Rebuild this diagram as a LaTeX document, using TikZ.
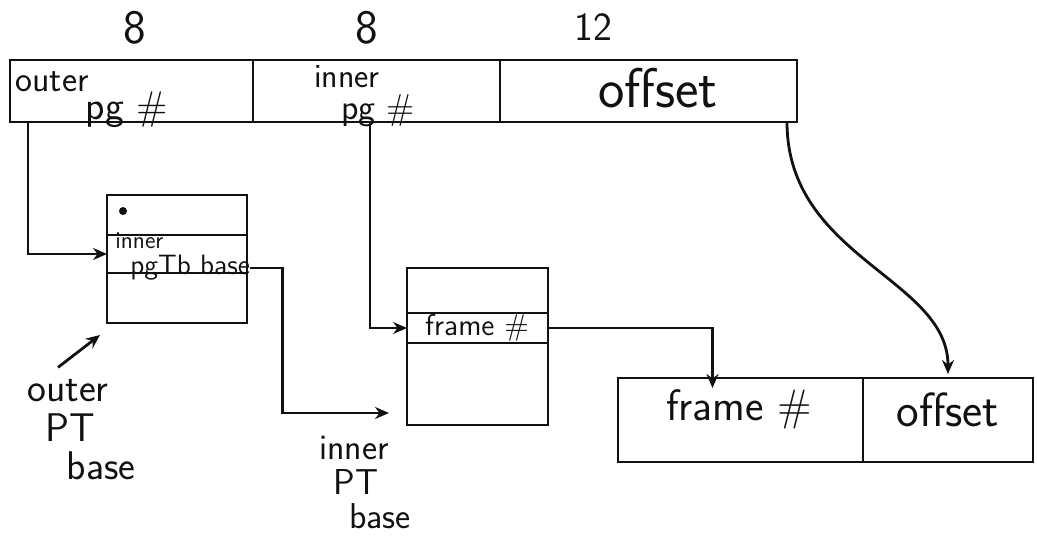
\documentclass[tikz,border=0pt]{standalone}
\usepackage{tikz}
\usetikzlibrary{arrows.meta,positioning,calc}
\definecolor{ink}{HTML}{111111}

\begin{document}
\begin{tikzpicture}[x=0.5pt,y=-0.5pt,
  inkline/.style={draw=ink,line width=1.4pt},
  cell/.style={inkline,rectangle,inner sep=0pt,outer sep=0pt,minimum height=31pt},
  slot/.style={inkline,rectangle,inner sep=0pt,outer sep=0pt,minimum width=70pt},
  pcell/.style={inkline,rectangle,inner sep=0pt,outer sep=0pt,minimum height=42pt},
  hand/.style={font=\sffamily\fontsize{#1}{#1}\selectfont,text=ink,inner sep=0pt},
  arr/.style={draw=ink,line width=1.4pt,-{Stealth[length=7pt,width=6pt]}}]
  \useasboundingbox (0,0) rectangle (1037,540);
  % virtual address: 8 | 8 | 12
  \node[cell,minimum width=121.5pt,anchor=north west] (outerpg) at (10,60) {};
  \node[cell,minimum width=123.5pt,right=0pt of outerpg] (innerpg) {};
  \node[cell,minimum width=148.5pt,right=0pt of innerpg] (offs) {};
  \node[hand=24] (bitsa) at (135,28) {8};
  \node[hand=24] (bitsb) at (367,28) {8};
  \node[hand=20] (bitsc) at (593,27) {12};
  \node[hand=18] (outera) at (52,82) {outer};
  \node[hand=20] (outerb) at (127,110) {pg \#};
  \node[hand=17] (innera) at (347,77) {inner};
  \node[hand=18] (innerb) at (378,111) {pg \#};
  \node[hand=28] (offst) at (658,88) {offset};
  % outer page table
  \node[slot,minimum height=20pt,anchor=north west] (orowa) at (107,195) {};
  \node[slot,minimum height=19pt,below=0pt of orowa] (orowb) {};
  \node[slot,minimum height=25pt,below=0pt of orowb] (orowc) {};
  \fill[ink] ([xshift=8pt,yshift=-8pt]orowa.north west) circle (2pt);
  \node[hand=12,anchor=west] (pta) at (115,241) {inner};
  \node[hand=14,anchor=west] (ptb) at (130,268) {pgTb base};
  \node[hand=20] (olaba) at (68,391) {outer};
  \node[hand=20] (olabb) at (70,428) {PT};
  \node[hand=20] (olabc) at (101,466) {base};
  % inner page table
  \node[slot,minimum width=70.5pt,minimum height=22.5pt,anchor=north west] (irowa) at (407,268) {};
  \node[slot,minimum width=70.5pt,minimum height=15pt,below=0pt of irowa] (irowb) {};
  \node[slot,minimum width=70.5pt,minimum height=41pt,below=0pt of irowb] (irowc) {};
  \node[hand=15] (ifr) at (477,328) {frame \#};
  \node[hand=18] (ilaba) at (354,448) {inner};
  \node[hand=18] (ilabb) at (356,482) {PT};
  \node[hand=18] (ilabc) at (380,516) {base};
  % physical address
  \node[pcell,minimum width=122.5pt,anchor=north west] (pframe) at (618,378) {};
  \node[pcell,minimum width=85pt,right=0pt of pframe] (poff) {};
  \node[hand=22] (pft) at (739,409) {frame \#};
  \node[hand=24] (pot) at (948,410) {offset};
  % connectors
  \draw[arr] ([xshift=9pt]outerpg.south west) |- (orowb.west);
  \draw[arr] ([xshift=-5pt,yshift=6pt]olaba.north) -- ([xshift=-3.5pt,yshift=-6pt]orowc.south west);
  \draw[arr] (ptb.east) -- ++(16pt,0) |- ([xshift=-9pt,yshift=6pt]irowc.south west);
  \draw[arr] ([xshift=58.5pt]innerpg.south west) |- (irowb.west);
  \draw[arr] (irowb.east) -| ([xshift=-14pt,yshift=-5pt]pframe.north);
  \draw[arr] ([xshift=-5pt]offs.south east) .. controls +(0,-68pt) and +(0,48pt) .. ([yshift=2pt]poff.north);
\end{tikzpicture}
\end{document}
